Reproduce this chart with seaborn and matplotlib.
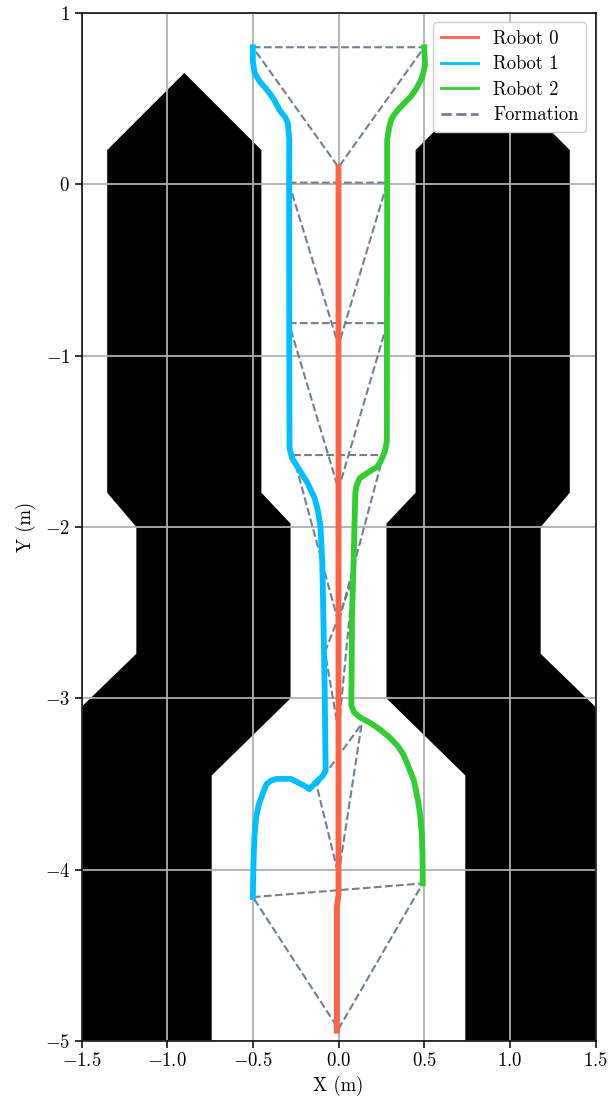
import numpy as np
import matplotlib
matplotlib.use("Agg")
import matplotlib.pyplot as plt
from matplotlib.lines import Line2D
import seaborn as sns

# ---------------- data ----------------
# Obstacle outline (left one; right one is its mirror image)
obs_left_x = [-1.5, -1.5, -1.18, -1.18, -1.35, -1.35, -0.9, -0.45, -0.45, -0.28, -0.28, -0.74, -0.74]
obs_left_y = [-5.0, -3.05, -2.74, -2.0, -1.8, 0.2, 0.65, 0.2, -1.8, -1.98, -3.0, -3.45, -5.0]
obs_right_x = [1.5, 1.5, 1.18, 1.18, 1.35, 1.35, 0.9, 0.45, 0.45, 0.28, 0.28, 0.74, 0.74]
obs_right_y = [-5.0, -3.05, -2.74, -2.0, -1.8, 0.2, 0.65, 0.2, -1.8, -1.98, -3.0, -3.45, -5.0]

# Robot 0 trajectory
r0_x = [0.0, 0.0, 0.0, 0.0, -0.01, -0.01]
r0_y = [0.1, -2.0, -4.0, -4.15, -4.22, -4.94]

# Robot 1 trajectory
r1_x = [-0.5, -0.5, -0.49, -0.46, -0.42, -0.38, -0.345, -0.31, -0.296, -0.287, -0.288, -0.288,
        -0.287, -0.286, -0.27, -0.22, -0.18, -0.14, -0.121, -0.105, -0.095, -0.092, -0.085,
        -0.08, -0.075, -0.09, -0.131, -0.17, -0.2, -0.238, -0.28, -0.316, -0.36, -0.393,
        -0.42, -0.44, -0.465, -0.48, -0.49, -0.494, -0.497, -0.5]
r1_y = [0.8, 0.72, 0.65, 0.6, 0.555, 0.5, 0.435, 0.39, 0.358, 0.26, 0.1, -0.5,
        -1.0, -1.54, -1.6, -1.68, -1.745, -1.83, -1.9, -2.0, -2.2, -2.33, -2.7,
        -3.0, -3.42, -3.45, -3.49, -3.53, -3.51, -3.49, -3.47, -3.47, -3.47, -3.48,
        -3.5, -3.55, -3.62, -3.69, -3.8, -3.885, -4.0, -4.16]

# Robot 2 trajectory
r2_x = [0.5, 0.505, 0.495, 0.482, 0.455, 0.424, 0.39, 0.347, 0.32, 0.308, 0.295, 0.284,
        0.284, 0.283, 0.282, 0.27, 0.245, 0.225, 0.19, 0.123, 0.105, 0.098, 0.09, 0.079,
        0.075, 0.09, 0.123, 0.18, 0.24, 0.3, 0.347, 0.38, 0.405, 0.44, 0.463, 0.478,
        0.486, 0.49, 0.492]
r2_y = [0.8, 0.7, 0.65, 0.61, 0.56, 0.514, 0.48, 0.435, 0.4, 0.377, 0.33, 0.26,
        0.0, -0.8, -1.5, -1.56, -1.62, -1.65, -1.67, -1.716, -1.76, -1.8, -2.13, -2.52,
        -3.04, -3.08, -3.11, -3.14, -3.18, -3.23, -3.28, -3.33, -3.39, -3.48, -3.59, -3.69,
        -3.79, -3.9, -4.08]

# Formation snapshots (robot positions at sampled times)
form_r0_x = [0.0, 0.0, 0.0, 0.0, 0.0, 0.0, 0.0]
form_r0_y = [0.1, -0.94, -1.78, -2.56, -3.19, -4.03, -4.93]
form_r1_x = [-0.5, -0.29, -0.29, -0.265, -0.079, -0.127, -0.5]
form_r1_y = [0.8, 0.01, -0.81, -1.58, -2.73, -3.51, -4.16]
form_r2_x = [0.5, 0.285, 0.285, 0.262, 0.086, 0.135, 0.492]
form_r2_y = [0.8, 0.01, -0.81, -1.58, -2.3, -3.15, -4.08]

robot_labels = ["Robot 0", "Robot 1", "Robot 2"]
robot_colors = ["#FF6347", "#00BFFF", "#32CD32"]
formation_color = "#708090"

x_ticks = [-1.5, -1.0, -0.5, 0.0, 0.5, 1.0, 1.5]
y_ticks = [1, 0, -1, -2, -3, -4, -5]

# ---------------- style ----------------
plt.rcParams.update({
    "font.family": "serif",
    "font.serif": ["cmr10", "DejaVu Serif"],
    "mathtext.fontset": "cm",
    "axes.formatter.use_mathtext": True,
    "font.size": 13.5,
    "axes.unicode_minus": True,
})

fig = plt.figure(figsize=(6.1, 10.99), dpi=100)
ax = fig.add_axes([81 / 610, 1 - 1041 / 1099, 515 / 610, 1028 / 1099])

# obstacles
ax.fill(obs_left_x, obs_left_y, color="black", lw=0, zorder=1)
ax.fill(obs_right_x, obs_right_y, color="black", lw=0, zorder=1)

# formation triangles
for i in range(len(form_r0_x)):
    tx = [form_r1_x[i], form_r2_x[i], form_r0_x[i], form_r1_x[i]]
    ty = [form_r1_y[i], form_r2_y[i], form_r0_y[i], form_r1_y[i]]
    ax.plot(tx, ty, ls="--", color=formation_color, lw=1.5, zorder=2.2)

# robot trajectories
for xs, ys, c in [(r0_x, r0_y, robot_colors[0]), (r1_x, r1_y, robot_colors[1]), (r2_x, r2_y, robot_colors[2])]:
    sns.lineplot(x=np.array(xs), y=np.array(ys), sort=False, estimator=None,
                 color=c, lw=4.2, ax=ax, legend=False, zorder=3)

ax.set_xlim(-1.5, 1.5)
ax.set_ylim(-5, 1)
ax.set_aspect("equal", adjustable="box")
ax.set_xticks(x_ticks)
ax.set_yticks(y_ticks)
ax.set_axisbelow("line")
ax.grid(True, color="#b0b0b0", lw=1.3)
ax.tick_params(direction="out", length=4.7, width=1.1, labelsize=13.5)
for s in ax.spines.values():
    s.set_linewidth(1.1)

ax.set_xlabel("X (m)", fontsize=13.5, labelpad=4)
ax.set_ylabel("Y (m)", fontsize=13.5, labelpad=6)

handles = [Line2D([0], [0], color=robot_colors[0], lw=2.0),
           Line2D([0], [0], color=robot_colors[1], lw=2.0),
           Line2D([0], [0], color=robot_colors[2], lw=2.0),
           Line2D([0], [0], color=formation_color, lw=2.0, ls="--")]
leg = ax.legend(handles, robot_labels + ["Formation"], loc="upper right", fontsize=13.5,
                framealpha=1.0, labelspacing=0.4)
leg.set_zorder(10)

fig.savefig("out.png", dpi=100)
